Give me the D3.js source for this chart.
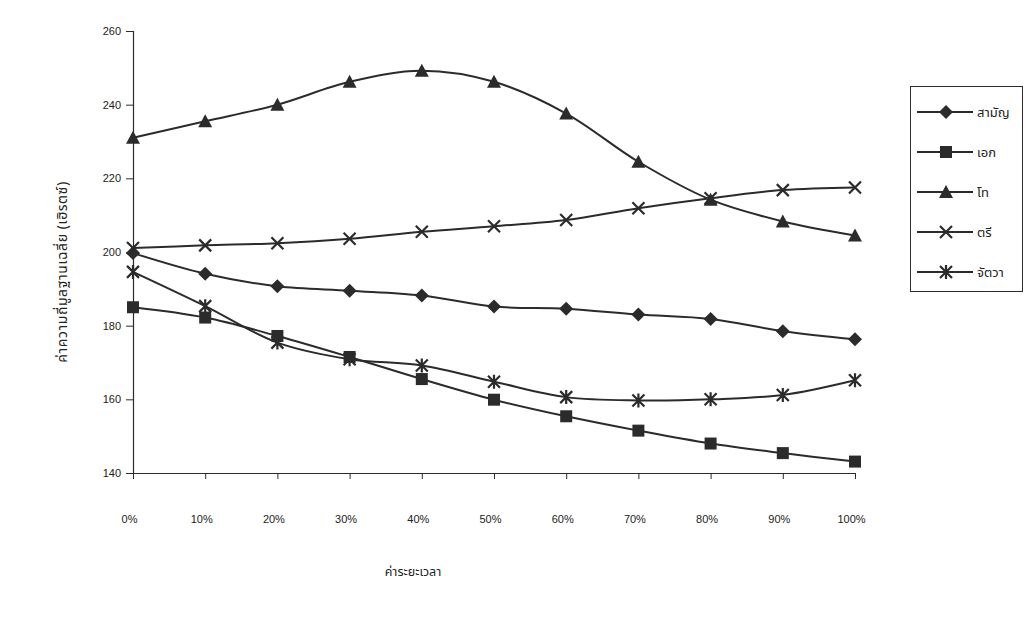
<!DOCTYPE html>
<html>
<head>
<meta charset="utf-8">
<script src="https://cdn.jsdelivr.net/npm/d3@7"></script>
<style>
  html, body { margin: 0; padding: 0; background: #fff; }
  svg { display: block; }
  .tick text { font-family: "Liberation Sans", Arial, sans-serif; font-size: 11px; fill: #222; }
  .thai { font-family: "Noto Sans Thai", "Loma", "Garuda", "Noto Sans", sans-serif; fill: #222; }
</style>
</head>
<body>
<svg id="chart" width="1028" height="625"></svg>
<script>
// Mean fundamental frequency (Hz) across duration points, one series per tone
const categories = ["0%", "10%", "20%", "30%", "40%", "50%", "60%", "70%", "80%", "90%", "100%"];
const seriesNames = ["สามัญ", "เอก", "โท", "ตรี", "จัตวา"];
const samanValues = [199.7, 194.1, 190.7, 189.5, 188.2, 185.2, 184.6, 183.0, 181.8, 178.5, 176.3];
const ekValues    = [185.0, 182.2, 177.2, 171.5, 165.5, 159.9, 155.4, 151.5, 148.0, 145.4, 143.1];
const thoValues   = [231.0, 235.5, 240.0, 246.2, 249.2, 246.2, 237.6, 224.5, 214.2, 208.3, 204.5];
const triValues   = [201.1, 201.8, 202.4, 203.6, 205.5, 207.0, 208.7, 211.9, 214.6, 216.8, 217.5];
const chattawaValues = [194.6, 185.3, 175.4, 170.9, 169.2, 164.8, 160.6, 159.7, 160.0, 161.2, 165.2];
const yTicks = [140, 160, 180, 200, 220, 240, 260];
const xTitle = "ค่าระยะเวลา";
const yTitle = "ค่าความถี่มูลฐานเฉลี่ย (เฮิรตซ์)";

const seriesValues = [samanValues, ekValues, thoValues, triValues, chattawaValues];
const markerTypes = ["diamond", "square", "triangle", "cross", "star"];

const svg = d3.select("#chart");
const ink = "#2b2b2b";

const x = d3.scalePoint().domain(categories).range([133, 855]);
const y = d3.scaleLinear().domain([140, 260]).range([473, 31]);

// Y axis
const yAxis = svg.append("g")
  .attr("transform", "translate(133,0)")
  .call(d3.axisLeft(y).tickValues(yTicks).tickSize(7).tickPadding(5).tickFormat(d3.format("d")));
yAxis.select(".domain").attr("stroke", ink).attr("stroke-width", 1.2);
yAxis.selectAll(".tick line").attr("stroke", ink);

// X axis
const xAxis = svg.append("g")
  .attr("transform", "translate(0,473)")
  .call(d3.axisBottom(x).tickSize(6).tickPadding(36).tickSizeOuter(0));
xAxis.select(".domain").attr("stroke", ink).attr("stroke-width", 1.2);
xAxis.selectAll(".tick line").attr("stroke", ink);
xAxis.selectAll(".tick text").attr("dx", "-4");

// Axis titles
svg.append("text").attr("class", "thai")
  .attr("x", 413).attr("y", 576)
  .attr("text-anchor", "middle").attr("font-size", 12.5)
  .text(xTitle);
svg.append("text").attr("class", "thai")
  .attr("transform", "translate(67,272) rotate(-90)")
  .attr("text-anchor", "middle").attr("font-size", 14)
  .attr("letter-spacing", 0.6)
  .text(yTitle);

// Marker shapes
function marker(sel, type) {
  const s = 6;
  if (type === "diamond") {
    sel.append("path").attr("d", `M0,${-s - 1}L${s + 1},0L0,${s + 1}L${-s - 1},0Z`).attr("fill", ink);
  } else if (type === "square") {
    sel.append("rect").attr("x", -s).attr("y", -s).attr("width", 2 * s).attr("height", 2 * s).attr("fill", ink);
  } else if (type === "triangle") {
    sel.append("path").attr("d", `M0,${-s - 1}L${s + 1},${s}L${-s - 1},${s}Z`).attr("fill", ink);
  } else if (type === "cross") {
    sel.append("path").attr("d", `M${-s},${-s}L${s},${s}M${-s},${s}L${s},${-s}`)
      .attr("stroke", ink).attr("stroke-width", 2.2).attr("fill", "none");
  } else if (type === "star") {
    sel.append("path").attr("d", `M${-s},${-s}L${s},${s}M${-s},${s}L${s},${-s}M0,${-s - 1}L0,${s + 1}`)
      .attr("stroke", ink).attr("stroke-width", 2.2).attr("fill", "none");
  }
}

const line = d3.line()
  .x((d, i) => x(categories[i]))
  .y(d => y(d))
  .curve(d3.curveCatmullRom.alpha(0.5));

seriesValues.forEach((vals, k) => {
  svg.append("path")
    .datum(vals)
    .attr("d", line)
    .attr("fill", "none")
    .attr("stroke", ink)
    .attr("stroke-width", 2);
  svg.append("g").selectAll("g")
    .data(vals)
    .join("g")
    .attr("transform", (d, i) => `translate(${x(categories[i])},${y(d)})`)
    .each(function () { marker(d3.select(this), markerTypes[k]); });
});

// Legend
const legend = svg.append("g");
legend.append("rect")
  .attr("x", 910.5).attr("y", 86.5).attr("width", 112).attr("height", 205)
  .attr("fill", "none").attr("stroke", ink).attr("stroke-width", 1);
seriesNames.forEach((name, k) => {
  const ly = 112 + k * 40;
  const g = legend.append("g");
  g.append("line").attr("x1", 917).attr("x2", 973).attr("y1", ly).attr("y2", ly)
    .attr("stroke", ink).attr("stroke-width", 2);
  const m = g.append("g").attr("transform", `translate(946,${ly})`);
  marker(m, markerTypes[k]);
  g.append("text").attr("class", "thai")
    .attr("x", 977).attr("y", ly + 5).attr("font-size", 13)
    .text(name);
});
</script>
</body>
</html>
